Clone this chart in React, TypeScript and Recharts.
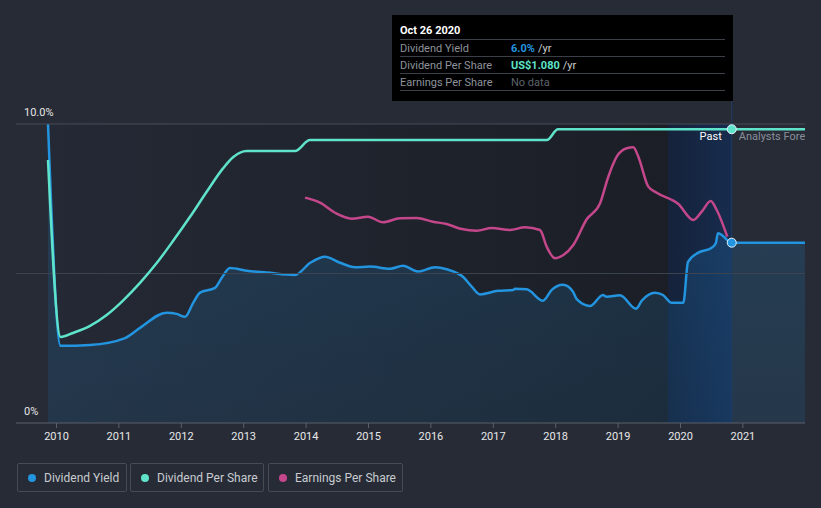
import React from 'react';
import {
  ComposedChart, Area, Line, XAxis, YAxis, ReferenceLine, ReferenceArea, ReferenceDot,
} from 'recharts';

// ---- Data (year as decimal) ----
const yieldYears = [2009.864, 2010.067, 2010.537, 2011.098, 2011.338, 2011.766, 2011.926, 2012.059, 2012.188, 2012.3, 2012.54, 2012.647, 2012.78, 2013.048, 2013.369, 2013.822, 2014.062, 2014.303, 2014.543, 2014.784, 2015.024, 2015.345, 2015.553, 2015.793, 2016.066, 2016.253, 2016.514, 2016.654, 2016.787, 2017.075, 2017.316, 2017.348, 2017.535, 2017.796, 2017.936, 2018.117, 2018.277, 2018.337, 2018.55, 2018.758, 2018.817, 2019.03, 2019.287, 2019.378, 2019.591, 2019.72, 2019.859, 2020.045, 2020.12, 2020.28, 2020.5, 2020.567, 2020.599, 2020.66, 2020.821, 2021.995];
const yieldValues = [10.0, 2.58, 2.61, 2.84, 3.18, 3.69, 3.65, 3.55, 4.01, 4.36, 4.52, 4.85, 5.18, 5.09, 5.03, 4.95, 5.35, 5.56, 5.36, 5.21, 5.23, 5.16, 5.26, 5.07, 5.21, 5.14, 4.89, 4.56, 4.3, 4.42, 4.45, 4.49, 4.47, 4.09, 4.45, 4.62, 4.39, 4.14, 3.91, 4.28, 4.22, 4.27, 3.82, 4.09, 4.36, 4.28, 4.02, 4.02, 5.39, 5.69, 5.86, 6.02, 6.35, 6.29, 6.03, 6.03];

const dpsYears = [2009.864, 2010.067, 2010.264, 2010.537, 2010.804, 2011.066, 2011.338, 2011.606, 2011.867, 2012.14, 2012.407, 2012.668, 2012.829, 2013.048, 2013.822, 2014.062, 2017.856, 2018.037, 2020.821, 2021.995];
const dpsValues = [0.967, 0.316, 0.331, 0.357, 0.397, 0.45, 0.515, 0.588, 0.669, 0.758, 0.85, 0.936, 0.977, 1.0, 1.0, 1.04, 1.04, 1.08, 1.08, 1.08];

const epsYears = [2013.982, 2014.223, 2014.463, 2014.731, 2014.992, 2015.232, 2015.505, 2015.772, 2016.034, 2016.253, 2016.494, 2016.734, 2016.974, 2017.268, 2017.508, 2017.748, 2017.856, 2017.989, 2018.122, 2018.282, 2018.497, 2018.71, 2018.843, 2018.978, 2019.138, 2019.244, 2019.324, 2019.484, 2019.619, 2019.965, 2020.205, 2020.34, 2020.484, 2020.58, 2020.75];
const epsValues = [1.657, 1.62, 1.546, 1.502, 1.517, 1.476, 1.505, 1.507, 1.48, 1.463, 1.426, 1.414, 1.434, 1.419, 1.439, 1.419, 1.296, 1.211, 1.235, 1.309, 1.498, 1.615, 1.811, 1.958, 2.02, 2.027, 1.958, 1.738, 1.693, 1.61, 1.493, 1.554, 1.632, 1.566, 1.37];

const xTicks = [2010, 2011, 2012, 2013, 2014, 2015, 2016, 2017, 2018, 2019, 2020, 2021];

const yieldData = yieldYears.map((t, i) => ({ t, v: yieldValues[i] }));
const dpsData = dpsYears.map((t, i) => ({ t, v: dpsValues[i] }));
const epsData = epsYears.map((t, i) => ({ t, v: epsValues[i] }));

const PAST_X = 2020.821;
const START_X = 2009.864;
const BAND_X = 2019.8;

const FONT = 'Roboto, "Noto Sans", sans-serif';
const BLUE = '#2394DF';
const TEAL = '#5FE3CA';
const PINK = '#C4478B';

const yLabel = (text: string) => (props: any) => {
  const vb = props.viewBox || {};
  return (
    <text x={vb.x + 8} y={vb.y - 8} fill="#E6E6E6" fontSize={11} fontFamily={FONT}>
      {text}
    </text>
  );
};

const pastLabel = (props: any) => {
  const vb = props.viewBox || {};
  return (
    <g>
      <text x={vb.x - 10} y={140} fill="#FFFFFF" fontSize={11} fontFamily={FONT} textAnchor="end">Past</text>
      <text x={vb.x + 7} y={140} fill="#8A8F99" fontSize={11} fontFamily={FONT} clipPath="url(#plotClip)">Analysts Forecasts</text>
    </g>
  );
};

const legendItems = [
  { label: 'Dividend Yield', color: BLUE, left: 17, width: 110 },
  { label: 'Dividend Per Share', color: TEAL, left: 130, width: 134 },
  { label: 'Earnings Per Share', color: PINK, left: 268, width: 135 },
];

export default function App() {
  return (
    <div style={{ position: 'fixed', left: 0, top: 0, width: 821, height: 508, background: '#262B36', fontFamily: FONT }}>
      <ComposedChart width={821} height={508} margin={{ top: 15, right: 16, bottom: 55, left: 16 }}>
        <defs>
          <linearGradient id="pastGrad" x1="0" y1="0" x2="1" y2="0">
            <stop offset="0%" stopColor="#242935" />
            <stop offset="100%" stopColor="#1A1D24" />
          </linearGradient>
          <linearGradient id="bandGrad" x1="0" y1="0" x2="1" y2="0">
            <stop offset="0%" stopColor="#15223A" />
            <stop offset="100%" stopColor="#172C4E" />
          </linearGradient>
          <linearGradient id="areaGrad" x1="0" y1="0" x2="0" y2="1">
            <stop offset="0%" stopColor={BLUE} stopOpacity={0.2} />
            <stop offset="100%" stopColor={BLUE} stopOpacity={0.12} />
          </linearGradient>
          <clipPath id="plotClip">
            <rect x={16} y={0} width={789} height={508} />
          </clipPath>
        </defs>
        <XAxis
          dataKey="t"
          type="number"
          domain={[2009.351, 2021.995]}
          ticks={xTicks}
          allowDataOverflow
          height={30}
          axisLine={{ stroke: '#5A606B' }}
          tickLine={{ stroke: '#5A606B' }}
          tickSize={5}
          tickMargin={4}
          tick={{ fill: '#E8E8E8', fontSize: 11, fontFamily: FONT }}
        />
        <YAxis yAxisId="y" hide domain={[0, 13.645]} allowDataOverflow />
        <YAxis yAxisId="dps" hide domain={[0, 1.5]} allowDataOverflow />
        <YAxis yAxisId="eps" hide domain={[0, 3]} allowDataOverflow />

        <ReferenceArea yAxisId="y" x1={START_X} x2={PAST_X} y1={0} y2={10} fill="url(#pastGrad)" fillOpacity={1} stroke="none" />
        <ReferenceArea yAxisId="y" x1={BAND_X} x2={PAST_X} y1={0} y2={10} fill="url(#bandGrad)" fillOpacity={1} stroke="none" />
        <ReferenceLine yAxisId="y" y={10} stroke="#474D58" strokeWidth={1} label={yLabel('10.0%')} />
        <ReferenceLine yAxisId="y" y={5} stroke="#3E444F" strokeWidth={1} />
        <ReferenceLine yAxisId="y" y={0} stroke="none" label={yLabel('0%')} />
        <ReferenceLine yAxisId="y" x={PAST_X} stroke="#1F3D66" strokeWidth={1} label={pastLabel} />

        <Area
          yAxisId="y"
          data={yieldData}
          dataKey="v"
          type="monotone"
          stroke={BLUE}
          strokeWidth={2.5}
          fill="url(#areaGrad)"
          fillOpacity={1}
          dot={false}
          activeDot={false}
          isAnimationActive={false}
        />
        <Line
          yAxisId="eps"
          data={epsData}
          dataKey="v"
          type="monotone"
          stroke={PINK}
          strokeWidth={2.5}
          dot={false}
          activeDot={false}
          isAnimationActive={false}
        />
        <Line
          yAxisId="dps"
          data={dpsData}
          dataKey="v"
          type="monotone"
          stroke={TEAL}
          strokeWidth={2.5}
          dot={false}
          activeDot={false}
          isAnimationActive={false}
        />
        <ReferenceDot yAxisId="dps" x={PAST_X} y={1.08} r={4.5} fill={TEAL} stroke="#E8F4FF" strokeWidth={1} />
        <ReferenceDot yAxisId="y" x={PAST_X} y={6.03} r={4.5} fill={BLUE} stroke="#E8F4FF" strokeWidth={1} />
      </ComposedChart>

      {/* Tooltip box */}
      <div style={{ position: 'absolute', left: 392, top: 15, width: 341, height: 86, background: '#000', boxSizing: 'border-box', padding: '0 8px', fontSize: 11 }}>
        <div style={{ height: 25, lineHeight: '32px', color: '#fff', fontWeight: 700, borderBottom: '1px solid #3A3F48', boxSizing: 'border-box' }}>Oct 26 2020</div>
        {[
          { l: 'Dividend Yield', v: '6.0%', c: BLUE, s: '/yr' },
          { l: 'Dividend Per Share', v: 'US$1.080', c: TEAL, s: '/yr' },
          { l: 'Earnings Per Share', v: 'No data', c: '#5E636C', s: '', n: true },
        ].map((r: any) => (
          <div key={r.l} style={{ height: 17, lineHeight: '17px', borderBottom: '1px solid #3A3F48', boxSizing: 'border-box', display: 'flex' }}>
            <span style={{ width: 111, color: '#8E939C' }}>{r.l}</span>
            <span style={{ color: r.c, fontWeight: r.n ? 400 : 700 }}>{r.v}</span>
            <span style={{ color: '#D0D0D0', marginLeft: 3 }}>{r.s}</span>
          </div>
        ))}
      </div>

      {/* Legend */}
      {legendItems.map((it) => (
        <div key={it.label} style={{ position: 'absolute', left: it.left, top: 463, width: it.width, height: 29, boxSizing: 'border-box', border: '1px solid #454B57', borderRadius: 2, display: 'flex', alignItems: 'center', paddingLeft: 10 }}>
          <span style={{ width: 8, height: 8, borderRadius: 4, background: it.color, display: 'inline-block', marginRight: 8 }} />
          <span style={{ color: '#C8CBD0', fontSize: 12 }}>{it.label}</span>
        </div>
      ))}
    </div>
  );
}
